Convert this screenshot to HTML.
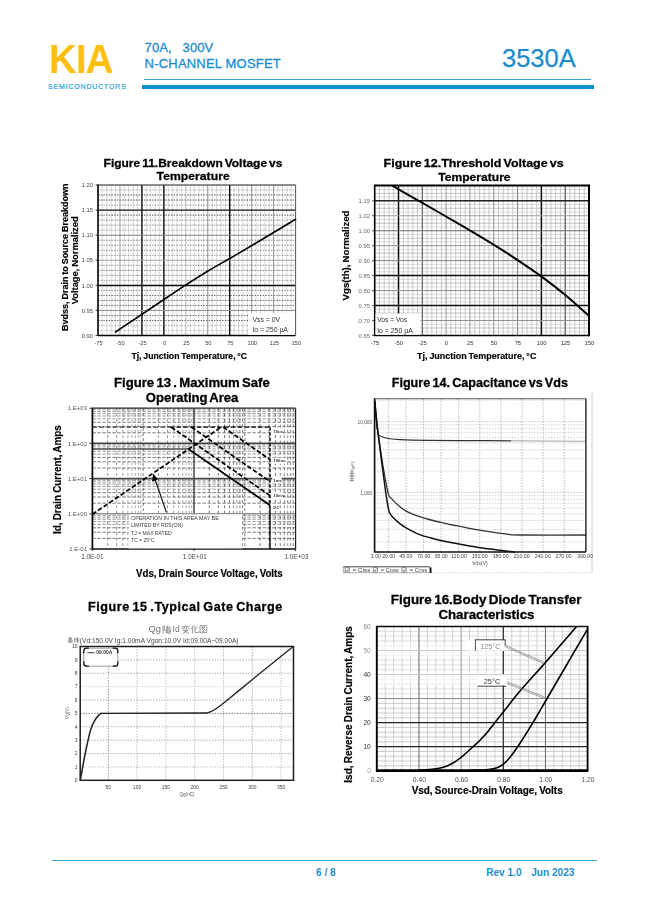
<!DOCTYPE html>
<html lang="en"><head><meta charset="utf-8"><title>KIA 3530A</title>
<style>
html,body{margin:0;padding:0;background:#fff}
body{width:649px;height:917px;position:relative;overflow:hidden;font-family:"Liberation Sans",sans-serif}
.abs{position:absolute;white-space:nowrap;line-height:1}
.kia{left:49px;top:37.9px;font-size:41.5px;font-weight:bold;color:#fdc010;letter-spacing:-1px;transform-origin:0 0;transform:scale(0.93,1)}
.semi{left:48px;top:82.6px;font-size:7px;color:#2f9fda;letter-spacing:0.82px;-webkit-text-stroke:0.2px #2f9fda}
.t1{left:144.6px;top:41.1px;font-size:13px;color:#1b8dcf;-webkit-text-stroke:0.3px #1b8dcf;letter-spacing:0.1px}
.t2{left:144.6px;top:56.7px;font-size:13px;color:#1b8dcf;-webkit-text-stroke:0.3px #1b8dcf;letter-spacing:0.2px}
.pn{left:501.6px;top:45.2px;font-size:26.5px;color:#1b8dcf;-webkit-text-stroke:0.25px #1b8dcf;transform-origin:0 0;transform:scale(0.962,1)}
.hl1{left:144px;top:79px;width:446.6px;height:1.2px;background:#2f9fd6}
.hl2{left:142px;top:85px;width:451.6px;height:4px;background:#0d8fce}
.fl{left:52px;top:859.5px;width:545px;height:1px;background:#3aa6dc}
.ft{font-size:10.1px;font-weight:bold;color:#1b8fd0;top:868.1px}
svg{position:absolute;left:0;top:0}
svg text{font-family:"Liberation Sans",sans-serif}
</style></head><body>
<div class="abs kia">KIA</div>
<div class="abs semi">SEMICONDUCTORS</div>
<div class="abs t1">70A,<span style="display:inline-block;width:10.8px"></span>300V</div>
<div class="abs t2">N-CHANNEL MOSFET</div>
<div class="abs pn">3530A</div>
<div class="abs hl1"></div><div class="abs hl2"></div>
<svg width="649" height="917" viewBox="0 0 649 917">
<defs><filter id="soft" x="0" y="0" width="649" height="917" filterUnits="userSpaceOnUse"><feGaussianBlur stdDeviation="0.38"/></filter></defs>
<g filter="url(#soft)">
<g id="fig11">
<text x="103.60" y="166.90" font-size="11.8" font-weight="bold" fill="#000" textLength="178.80" lengthAdjust="spacingAndGlyphs" stroke="#000" stroke-width="0.3" word-spacing="-1.3">Figure 11.Breakdown Voltage vs</text>
<text x="156.60" y="180.20" font-size="11.8" font-weight="bold" fill="#000" textLength="73.10" lengthAdjust="spacingAndGlyphs" stroke="#000" stroke-width="0.3" word-spacing="-1.3">Temperature</text>
<line x1="102.39" y1="185.00" x2="102.39" y2="335.60" stroke="#cfcfcf" stroke-width="0.8"/>
<line x1="106.78" y1="185.00" x2="106.78" y2="335.60" stroke="#cfcfcf" stroke-width="0.8"/>
<line x1="111.17" y1="185.00" x2="111.17" y2="335.60" stroke="#cfcfcf" stroke-width="0.8"/>
<line x1="115.56" y1="185.00" x2="115.56" y2="335.60" stroke="#cfcfcf" stroke-width="0.8"/>
<line x1="124.35" y1="185.00" x2="124.35" y2="335.60" stroke="#cfcfcf" stroke-width="0.8"/>
<line x1="128.74" y1="185.00" x2="128.74" y2="335.60" stroke="#cfcfcf" stroke-width="0.8"/>
<line x1="133.13" y1="185.00" x2="133.13" y2="335.60" stroke="#cfcfcf" stroke-width="0.8"/>
<line x1="137.52" y1="185.00" x2="137.52" y2="335.60" stroke="#cfcfcf" stroke-width="0.8"/>
<line x1="146.30" y1="185.00" x2="146.30" y2="335.60" stroke="#cfcfcf" stroke-width="0.8"/>
<line x1="150.69" y1="185.00" x2="150.69" y2="335.60" stroke="#cfcfcf" stroke-width="0.8"/>
<line x1="155.08" y1="185.00" x2="155.08" y2="335.60" stroke="#cfcfcf" stroke-width="0.8"/>
<line x1="159.48" y1="185.00" x2="159.48" y2="335.60" stroke="#cfcfcf" stroke-width="0.8"/>
<line x1="168.26" y1="185.00" x2="168.26" y2="335.60" stroke="#cfcfcf" stroke-width="0.8"/>
<line x1="172.65" y1="185.00" x2="172.65" y2="335.60" stroke="#cfcfcf" stroke-width="0.8"/>
<line x1="177.04" y1="185.00" x2="177.04" y2="335.60" stroke="#cfcfcf" stroke-width="0.8"/>
<line x1="181.43" y1="185.00" x2="181.43" y2="335.60" stroke="#cfcfcf" stroke-width="0.8"/>
<line x1="190.21" y1="185.00" x2="190.21" y2="335.60" stroke="#cfcfcf" stroke-width="0.8"/>
<line x1="194.60" y1="185.00" x2="194.60" y2="335.60" stroke="#cfcfcf" stroke-width="0.8"/>
<line x1="199.00" y1="185.00" x2="199.00" y2="335.60" stroke="#cfcfcf" stroke-width="0.8"/>
<line x1="203.39" y1="185.00" x2="203.39" y2="335.60" stroke="#cfcfcf" stroke-width="0.8"/>
<line x1="212.17" y1="185.00" x2="212.17" y2="335.60" stroke="#cfcfcf" stroke-width="0.8"/>
<line x1="216.56" y1="185.00" x2="216.56" y2="335.60" stroke="#cfcfcf" stroke-width="0.8"/>
<line x1="220.95" y1="185.00" x2="220.95" y2="335.60" stroke="#cfcfcf" stroke-width="0.8"/>
<line x1="225.34" y1="185.00" x2="225.34" y2="335.60" stroke="#cfcfcf" stroke-width="0.8"/>
<line x1="234.12" y1="185.00" x2="234.12" y2="335.60" stroke="#cfcfcf" stroke-width="0.8"/>
<line x1="238.52" y1="185.00" x2="238.52" y2="335.60" stroke="#cfcfcf" stroke-width="0.8"/>
<line x1="242.91" y1="185.00" x2="242.91" y2="335.60" stroke="#cfcfcf" stroke-width="0.8"/>
<line x1="247.30" y1="185.00" x2="247.30" y2="335.60" stroke="#cfcfcf" stroke-width="0.8"/>
<line x1="256.08" y1="185.00" x2="256.08" y2="335.60" stroke="#cfcfcf" stroke-width="0.8"/>
<line x1="260.47" y1="185.00" x2="260.47" y2="335.60" stroke="#cfcfcf" stroke-width="0.8"/>
<line x1="264.86" y1="185.00" x2="264.86" y2="335.60" stroke="#cfcfcf" stroke-width="0.8"/>
<line x1="269.25" y1="185.00" x2="269.25" y2="335.60" stroke="#cfcfcf" stroke-width="0.8"/>
<line x1="278.04" y1="185.00" x2="278.04" y2="335.60" stroke="#cfcfcf" stroke-width="0.8"/>
<line x1="282.43" y1="185.00" x2="282.43" y2="335.60" stroke="#cfcfcf" stroke-width="0.8"/>
<line x1="286.82" y1="185.00" x2="286.82" y2="335.60" stroke="#cfcfcf" stroke-width="0.8"/>
<line x1="291.21" y1="185.00" x2="291.21" y2="335.60" stroke="#cfcfcf" stroke-width="0.8"/>
<line x1="98.00" y1="190.02" x2="295.60" y2="190.02" stroke="#2a2a2a" stroke-width="0.85" stroke-dasharray="1.5 1.2" stroke-opacity="0.45"/>
<line x1="98.00" y1="195.04" x2="295.60" y2="195.04" stroke="#2a2a2a" stroke-width="0.85" stroke-dasharray="1.5 1.2" stroke-opacity="0.95"/>
<line x1="98.00" y1="200.06" x2="295.60" y2="200.06" stroke="#2a2a2a" stroke-width="0.85" stroke-dasharray="1.5 1.2" stroke-opacity="0.95"/>
<line x1="98.00" y1="205.08" x2="295.60" y2="205.08" stroke="#2a2a2a" stroke-width="0.85" stroke-dasharray="1.5 1.2" stroke-opacity="0.5"/>
<line x1="98.00" y1="215.12" x2="295.60" y2="215.12" stroke="#2a2a2a" stroke-width="0.85" stroke-dasharray="1.5 1.2" stroke-opacity="0.9"/>
<line x1="98.00" y1="220.14" x2="295.60" y2="220.14" stroke="#2a2a2a" stroke-width="0.85" stroke-dasharray="1.5 1.2" stroke-opacity="0.6"/>
<line x1="98.00" y1="225.16" x2="295.60" y2="225.16" stroke="#2a2a2a" stroke-width="0.85" stroke-dasharray="1.5 1.2" stroke-opacity="0.6"/>
<line x1="98.00" y1="230.18" x2="295.60" y2="230.18" stroke="#2a2a2a" stroke-width="0.85" stroke-dasharray="1.5 1.2" stroke-opacity="0.5"/>
<line x1="98.00" y1="240.22" x2="295.60" y2="240.22" stroke="#2a2a2a" stroke-width="0.85" stroke-dasharray="1.5 1.2" stroke-opacity="0.7"/>
<line x1="98.00" y1="245.24" x2="295.60" y2="245.24" stroke="#2a2a2a" stroke-width="0.85" stroke-dasharray="1.5 1.2" stroke-opacity="0.6"/>
<line x1="98.00" y1="250.26" x2="295.60" y2="250.26" stroke="#2a2a2a" stroke-width="0.85" stroke-dasharray="1.5 1.2" stroke-opacity="0.6"/>
<line x1="98.00" y1="255.28" x2="295.60" y2="255.28" stroke="#2a2a2a" stroke-width="0.85" stroke-dasharray="1.5 1.2" stroke-opacity="0.55"/>
<line x1="98.00" y1="265.32" x2="295.60" y2="265.32" stroke="#2a2a2a" stroke-width="0.85" stroke-dasharray="1.5 1.2" stroke-opacity="0.6"/>
<line x1="98.00" y1="270.34" x2="295.60" y2="270.34" stroke="#2a2a2a" stroke-width="0.85" stroke-dasharray="1.5 1.2" stroke-opacity="0.7"/>
<line x1="98.00" y1="275.36" x2="295.60" y2="275.36" stroke="#2a2a2a" stroke-width="0.85" stroke-dasharray="1.5 1.2" stroke-opacity="0.6"/>
<line x1="98.00" y1="280.38" x2="295.60" y2="280.38" stroke="#2a2a2a" stroke-width="0.85" stroke-dasharray="1.5 1.2" stroke-opacity="0.55"/>
<line x1="98.00" y1="290.42" x2="295.60" y2="290.42" stroke="#2a2a2a" stroke-width="0.85" stroke-dasharray="1.5 1.2" stroke-opacity="0.6"/>
<line x1="98.00" y1="295.44" x2="295.60" y2="295.44" stroke="#2a2a2a" stroke-width="0.85" stroke-dasharray="1.5 1.2" stroke-opacity="0.8"/>
<line x1="98.00" y1="300.46" x2="295.60" y2="300.46" stroke="#2a2a2a" stroke-width="0.85" stroke-dasharray="1.5 1.2" stroke-opacity="0.8"/>
<line x1="98.00" y1="305.48" x2="295.60" y2="305.48" stroke="#2a2a2a" stroke-width="0.85" stroke-dasharray="1.5 1.2" stroke-opacity="0.8"/>
<line x1="98.00" y1="315.52" x2="295.60" y2="315.52" stroke="#2a2a2a" stroke-width="0.85" stroke-dasharray="1.5 1.2" stroke-opacity="0.8"/>
<line x1="98.00" y1="320.54" x2="295.60" y2="320.54" stroke="#2a2a2a" stroke-width="0.85" stroke-dasharray="1.5 1.2" stroke-opacity="0.8"/>
<line x1="98.00" y1="325.56" x2="295.60" y2="325.56" stroke="#2a2a2a" stroke-width="0.85" stroke-dasharray="1.5 1.2" stroke-opacity="0.4"/>
<line x1="98.00" y1="330.58" x2="295.60" y2="330.58" stroke="#2a2a2a" stroke-width="0.85" stroke-dasharray="1.5 1.2" stroke-opacity="0.35"/>
<line x1="119.96" y1="185.00" x2="119.96" y2="335.60" stroke="#a0a0a0" stroke-width="1.0"/>
<line x1="141.91" y1="185.00" x2="141.91" y2="335.60" stroke="#111" stroke-width="1.45"/>
<line x1="163.87" y1="185.00" x2="163.87" y2="335.60" stroke="#111" stroke-width="1.45"/>
<line x1="185.82" y1="185.00" x2="185.82" y2="335.60" stroke="#b0b0b0" stroke-width="1.0"/>
<line x1="207.78" y1="185.00" x2="207.78" y2="335.60" stroke="#909090" stroke-width="1.0"/>
<line x1="229.73" y1="185.00" x2="229.73" y2="335.60" stroke="#111" stroke-width="1.45"/>
<line x1="251.69" y1="185.00" x2="251.69" y2="335.60" stroke="#909090" stroke-width="1.0"/>
<line x1="273.64" y1="185.00" x2="273.64" y2="335.60" stroke="#909090" stroke-width="1.0"/>
<line x1="98.00" y1="210.10" x2="295.60" y2="210.10" stroke="#111" stroke-width="1.45"/>
<line x1="98.00" y1="235.20" x2="295.60" y2="235.20" stroke="#808080" stroke-width="1.1"/>
<line x1="98.00" y1="260.30" x2="295.60" y2="260.30" stroke="#a0a0a0" stroke-width="1.1"/>
<line x1="98.00" y1="285.40" x2="295.60" y2="285.40" stroke="#111" stroke-width="1.45"/>
<line x1="98.00" y1="310.50" x2="295.60" y2="310.50" stroke="#909090" stroke-width="1.1"/>
<line x1="98.00" y1="185.00" x2="295.60" y2="185.00" stroke="#222" stroke-width="1.2"/>
<line x1="98.00" y1="335.60" x2="295.60" y2="335.60" stroke="#000" stroke-width="1.5"/>
<line x1="295.60" y1="185.00" x2="295.60" y2="335.60" stroke="#555" stroke-width="1.0"/>
<line x1="98.00" y1="184.40" x2="98.00" y2="336.10" stroke="#000" stroke-width="1.6"/>
<rect x="248.50" y="313.00" width="46.40" height="21.90" fill="#fff"/>
<text x="252.40" y="322.20" font-size="6.9" text-anchor="start" font-weight="normal" fill="#333" >Vss = 0V</text>
<text x="252.40" y="331.60" font-size="6.9" text-anchor="start" font-weight="normal" fill="#333" >Io = 250 &#181;A</text>
<path d="M115.50,332.00 C119.87,329.08 133.63,319.92 141.70,314.50 C149.77,309.08 156.78,304.27 163.90,299.50 C171.02,294.73 177.05,290.65 184.40,285.90 C191.75,281.15 200.37,275.62 208.00,271.00 C215.63,266.38 222.82,262.50 230.20,258.20 C237.58,253.90 244.93,249.57 252.30,245.20 C259.67,240.83 267.18,236.32 274.40,232.00 C281.62,227.68 292.07,221.42 295.60,219.30" fill="none" stroke="#000" stroke-width="1.6" stroke-linecap="round"/>
<text x="93.00" y="187.10" font-size="5.8" text-anchor="end" font-weight="normal" fill="#444" >1.20</text>
<line x1="95.60" y1="185.00" x2="98.00" y2="185.00" stroke="#222" stroke-width="0.9"/>
<text x="93.00" y="212.20" font-size="5.8" text-anchor="end" font-weight="normal" fill="#444" >1.15</text>
<line x1="95.60" y1="210.10" x2="98.00" y2="210.10" stroke="#222" stroke-width="0.9"/>
<text x="93.00" y="237.30" font-size="5.8" text-anchor="end" font-weight="normal" fill="#444" >1.10</text>
<line x1="95.60" y1="235.20" x2="98.00" y2="235.20" stroke="#222" stroke-width="0.9"/>
<text x="93.00" y="262.40" font-size="5.8" text-anchor="end" font-weight="normal" fill="#444" >1.05</text>
<line x1="95.60" y1="260.30" x2="98.00" y2="260.30" stroke="#222" stroke-width="0.9"/>
<text x="93.00" y="287.50" font-size="5.8" text-anchor="end" font-weight="normal" fill="#444" >1.00</text>
<line x1="95.60" y1="285.40" x2="98.00" y2="285.40" stroke="#222" stroke-width="0.9"/>
<text x="93.00" y="312.60" font-size="5.8" text-anchor="end" font-weight="normal" fill="#444" >0.95</text>
<line x1="95.60" y1="310.50" x2="98.00" y2="310.50" stroke="#222" stroke-width="0.9"/>
<text x="93.00" y="337.70" font-size="5.8" text-anchor="end" font-weight="normal" fill="#444" >0.90</text>
<line x1="95.60" y1="335.60" x2="98.00" y2="335.60" stroke="#222" stroke-width="0.9"/>
<text x="98.60" y="344.50" font-size="5.7" text-anchor="middle" font-weight="normal" fill="#3a3a3a" >-75</text>
<text x="120.56" y="344.50" font-size="5.7" text-anchor="middle" font-weight="normal" fill="#3a3a3a" >-50</text>
<text x="142.51" y="344.50" font-size="5.7" text-anchor="middle" font-weight="normal" fill="#3a3a3a" >-25</text>
<text x="164.47" y="344.50" font-size="5.7" text-anchor="middle" font-weight="normal" fill="#3a3a3a" >0</text>
<text x="186.42" y="344.50" font-size="5.7" text-anchor="middle" font-weight="normal" fill="#3a3a3a" >25</text>
<text x="208.38" y="344.50" font-size="5.7" text-anchor="middle" font-weight="normal" fill="#3a3a3a" >50</text>
<text x="230.33" y="344.50" font-size="5.7" text-anchor="middle" font-weight="normal" fill="#3a3a3a" >75</text>
<text x="252.29" y="344.50" font-size="5.7" text-anchor="middle" font-weight="normal" fill="#3a3a3a" >100</text>
<text x="274.24" y="344.50" font-size="5.7" text-anchor="middle" font-weight="normal" fill="#3a3a3a" >125</text>
<text x="296.20" y="344.50" font-size="5.7" text-anchor="middle" font-weight="normal" fill="#3a3a3a" >150</text>
<text x="131.40" y="358.60" font-size="8.6" font-weight="bold" fill="#000" textLength="115.70" lengthAdjust="spacingAndGlyphs" stroke="#000" stroke-width="0.18" word-spacing="-0.6">Tj, Junction Temperature, &#176;C</text>
<text x="-331.00" y="67.60" font-size="8.8" font-weight="bold" fill="#000" textLength="147.50" lengthAdjust="spacingAndGlyphs" stroke="#000" stroke-width="0.18" word-spacing="-0.6" transform="rotate(-90 0.00 0.00)">Bvdss, Drain to Source Breakdown</text>
<text x="-304.30" y="77.50" font-size="8.8" font-weight="bold" fill="#000" textLength="88.00" lengthAdjust="spacingAndGlyphs" stroke="#000" stroke-width="0.18" word-spacing="-0.6" transform="rotate(-90 0.00 0.00)">Voltage, Normalized</text>
</g>
<g id="fig12">
<text x="383.60" y="167.40" font-size="11.8" font-weight="bold" fill="#000" textLength="180.00" lengthAdjust="spacingAndGlyphs" stroke="#000" stroke-width="0.3" word-spacing="-1.3">Figure 12.Threshold Voltage vs</text>
<text x="438.20" y="180.60" font-size="11.8" font-weight="bold" fill="#000" textLength="72.40" lengthAdjust="spacingAndGlyphs" stroke="#000" stroke-width="0.3" word-spacing="-1.3">Temperature</text>
<line x1="379.46" y1="185.80" x2="379.46" y2="335.50" stroke="#bcbcbc" stroke-width="0.8"/>
<line x1="384.22" y1="185.80" x2="384.22" y2="335.50" stroke="#bcbcbc" stroke-width="0.8"/>
<line x1="388.99" y1="185.80" x2="388.99" y2="335.50" stroke="#bcbcbc" stroke-width="0.8"/>
<line x1="393.75" y1="185.80" x2="393.75" y2="335.50" stroke="#bcbcbc" stroke-width="0.8"/>
<line x1="403.27" y1="185.80" x2="403.27" y2="335.50" stroke="#bcbcbc" stroke-width="0.8"/>
<line x1="408.04" y1="185.80" x2="408.04" y2="335.50" stroke="#bcbcbc" stroke-width="0.8"/>
<line x1="412.80" y1="185.80" x2="412.80" y2="335.50" stroke="#bcbcbc" stroke-width="0.8"/>
<line x1="417.56" y1="185.80" x2="417.56" y2="335.50" stroke="#bcbcbc" stroke-width="0.8"/>
<line x1="427.08" y1="185.80" x2="427.08" y2="335.50" stroke="#bcbcbc" stroke-width="0.8"/>
<line x1="431.85" y1="185.80" x2="431.85" y2="335.50" stroke="#bcbcbc" stroke-width="0.8"/>
<line x1="436.61" y1="185.80" x2="436.61" y2="335.50" stroke="#bcbcbc" stroke-width="0.8"/>
<line x1="441.37" y1="185.80" x2="441.37" y2="335.50" stroke="#bcbcbc" stroke-width="0.8"/>
<line x1="450.90" y1="185.80" x2="450.90" y2="335.50" stroke="#bcbcbc" stroke-width="0.8"/>
<line x1="455.66" y1="185.80" x2="455.66" y2="335.50" stroke="#bcbcbc" stroke-width="0.8"/>
<line x1="460.42" y1="185.80" x2="460.42" y2="335.50" stroke="#bcbcbc" stroke-width="0.8"/>
<line x1="465.18" y1="185.80" x2="465.18" y2="335.50" stroke="#bcbcbc" stroke-width="0.8"/>
<line x1="474.71" y1="185.80" x2="474.71" y2="335.50" stroke="#bcbcbc" stroke-width="0.8"/>
<line x1="479.47" y1="185.80" x2="479.47" y2="335.50" stroke="#bcbcbc" stroke-width="0.8"/>
<line x1="484.23" y1="185.80" x2="484.23" y2="335.50" stroke="#bcbcbc" stroke-width="0.8"/>
<line x1="488.99" y1="185.80" x2="488.99" y2="335.50" stroke="#bcbcbc" stroke-width="0.8"/>
<line x1="498.52" y1="185.80" x2="498.52" y2="335.50" stroke="#bcbcbc" stroke-width="0.8"/>
<line x1="503.28" y1="185.80" x2="503.28" y2="335.50" stroke="#bcbcbc" stroke-width="0.8"/>
<line x1="508.04" y1="185.80" x2="508.04" y2="335.50" stroke="#bcbcbc" stroke-width="0.8"/>
<line x1="512.80" y1="185.80" x2="512.80" y2="335.50" stroke="#bcbcbc" stroke-width="0.8"/>
<line x1="522.33" y1="185.80" x2="522.33" y2="335.50" stroke="#bcbcbc" stroke-width="0.8"/>
<line x1="527.09" y1="185.80" x2="527.09" y2="335.50" stroke="#bcbcbc" stroke-width="0.8"/>
<line x1="531.85" y1="185.80" x2="531.85" y2="335.50" stroke="#bcbcbc" stroke-width="0.8"/>
<line x1="536.62" y1="185.80" x2="536.62" y2="335.50" stroke="#bcbcbc" stroke-width="0.8"/>
<line x1="546.14" y1="185.80" x2="546.14" y2="335.50" stroke="#bcbcbc" stroke-width="0.8"/>
<line x1="550.90" y1="185.80" x2="550.90" y2="335.50" stroke="#bcbcbc" stroke-width="0.8"/>
<line x1="555.66" y1="185.80" x2="555.66" y2="335.50" stroke="#bcbcbc" stroke-width="0.8"/>
<line x1="560.43" y1="185.80" x2="560.43" y2="335.50" stroke="#bcbcbc" stroke-width="0.8"/>
<line x1="569.95" y1="185.80" x2="569.95" y2="335.50" stroke="#bcbcbc" stroke-width="0.8"/>
<line x1="574.71" y1="185.80" x2="574.71" y2="335.50" stroke="#bcbcbc" stroke-width="0.8"/>
<line x1="579.48" y1="185.80" x2="579.48" y2="335.50" stroke="#bcbcbc" stroke-width="0.8"/>
<line x1="584.24" y1="185.80" x2="584.24" y2="335.50" stroke="#bcbcbc" stroke-width="0.8"/>
<line x1="374.70" y1="189.54" x2="589.00" y2="189.54" stroke="#c8c8c8" stroke-width="0.7"/>
<line x1="374.70" y1="193.29" x2="589.00" y2="193.29" stroke="#aaa" stroke-width="0.7"/>
<line x1="374.70" y1="197.03" x2="589.00" y2="197.03" stroke="#c8c8c8" stroke-width="0.7"/>
<line x1="374.70" y1="204.51" x2="589.00" y2="204.51" stroke="#c8c8c8" stroke-width="0.7"/>
<line x1="374.70" y1="208.25" x2="589.00" y2="208.25" stroke="#aaa" stroke-width="0.7"/>
<line x1="374.70" y1="212.00" x2="589.00" y2="212.00" stroke="#c8c8c8" stroke-width="0.7"/>
<line x1="374.70" y1="219.48" x2="589.00" y2="219.48" stroke="#c8c8c8" stroke-width="0.7"/>
<line x1="374.70" y1="223.23" x2="589.00" y2="223.23" stroke="#aaa" stroke-width="0.7"/>
<line x1="374.70" y1="226.97" x2="589.00" y2="226.97" stroke="#c8c8c8" stroke-width="0.7"/>
<line x1="374.70" y1="234.45" x2="589.00" y2="234.45" stroke="#c8c8c8" stroke-width="0.7"/>
<line x1="374.70" y1="238.19" x2="589.00" y2="238.19" stroke="#aaa" stroke-width="0.7"/>
<line x1="374.70" y1="241.94" x2="589.00" y2="241.94" stroke="#c8c8c8" stroke-width="0.7"/>
<line x1="374.70" y1="249.42" x2="589.00" y2="249.42" stroke="#c8c8c8" stroke-width="0.7"/>
<line x1="374.70" y1="253.17" x2="589.00" y2="253.17" stroke="#aaa" stroke-width="0.7"/>
<line x1="374.70" y1="256.91" x2="589.00" y2="256.91" stroke="#c8c8c8" stroke-width="0.7"/>
<line x1="374.70" y1="264.39" x2="589.00" y2="264.39" stroke="#c8c8c8" stroke-width="0.7"/>
<line x1="374.70" y1="268.13" x2="589.00" y2="268.13" stroke="#aaa" stroke-width="0.7"/>
<line x1="374.70" y1="271.88" x2="589.00" y2="271.88" stroke="#c8c8c8" stroke-width="0.7"/>
<line x1="374.70" y1="279.36" x2="589.00" y2="279.36" stroke="#c8c8c8" stroke-width="0.7"/>
<line x1="374.70" y1="283.11" x2="589.00" y2="283.11" stroke="#aaa" stroke-width="0.7"/>
<line x1="374.70" y1="286.85" x2="589.00" y2="286.85" stroke="#c8c8c8" stroke-width="0.7"/>
<line x1="374.70" y1="294.33" x2="589.00" y2="294.33" stroke="#c8c8c8" stroke-width="0.7"/>
<line x1="374.70" y1="298.07" x2="589.00" y2="298.07" stroke="#aaa" stroke-width="0.7"/>
<line x1="374.70" y1="301.82" x2="589.00" y2="301.82" stroke="#c8c8c8" stroke-width="0.7"/>
<line x1="374.70" y1="309.30" x2="589.00" y2="309.30" stroke="#c8c8c8" stroke-width="0.7"/>
<line x1="374.70" y1="313.05" x2="589.00" y2="313.05" stroke="#aaa" stroke-width="0.7"/>
<line x1="374.70" y1="316.79" x2="589.00" y2="316.79" stroke="#c8c8c8" stroke-width="0.7"/>
<line x1="374.70" y1="324.27" x2="589.00" y2="324.27" stroke="#c8c8c8" stroke-width="0.7"/>
<line x1="374.70" y1="328.01" x2="589.00" y2="328.01" stroke="#aaa" stroke-width="0.7"/>
<line x1="374.70" y1="331.76" x2="589.00" y2="331.76" stroke="#c8c8c8" stroke-width="0.7"/>
<line x1="398.51" y1="185.80" x2="398.51" y2="335.50" stroke="#111" stroke-width="1.5"/>
<line x1="422.32" y1="185.80" x2="422.32" y2="335.50" stroke="#555" stroke-width="1.1"/>
<line x1="446.13" y1="185.80" x2="446.13" y2="335.50" stroke="#999" stroke-width="1"/>
<line x1="469.94" y1="185.80" x2="469.94" y2="335.50" stroke="#999" stroke-width="1"/>
<line x1="493.76" y1="185.80" x2="493.76" y2="335.50" stroke="#909090" stroke-width="1"/>
<line x1="517.57" y1="185.80" x2="517.57" y2="335.50" stroke="#808080" stroke-width="1"/>
<line x1="541.38" y1="185.80" x2="541.38" y2="335.50" stroke="#111" stroke-width="1.5"/>
<line x1="565.19" y1="185.80" x2="565.19" y2="335.50" stroke="#444" stroke-width="1.1"/>
<line x1="374.70" y1="200.77" x2="589.00" y2="200.77" stroke="#222" stroke-width="1.3"/>
<line x1="374.70" y1="215.74" x2="589.00" y2="215.74" stroke="#a0a0a0" stroke-width="1"/>
<line x1="374.70" y1="230.71" x2="589.00" y2="230.71" stroke="#6a6a6a" stroke-width="1.1"/>
<line x1="374.70" y1="245.68" x2="589.00" y2="245.68" stroke="#909090" stroke-width="1"/>
<line x1="374.70" y1="260.65" x2="589.00" y2="260.65" stroke="#808080" stroke-width="1"/>
<line x1="374.70" y1="275.62" x2="589.00" y2="275.62" stroke="#111" stroke-width="1.5"/>
<line x1="374.70" y1="290.59" x2="589.00" y2="290.59" stroke="#909090" stroke-width="1"/>
<line x1="374.70" y1="305.56" x2="589.00" y2="305.56" stroke="#111" stroke-width="1.6"/>
<line x1="374.70" y1="320.53" x2="589.00" y2="320.53" stroke="#909090" stroke-width="1"/>
<line x1="374.70" y1="185.80" x2="374.70" y2="335.50" stroke="#000" stroke-width="1.6"/>
<line x1="589.00" y1="184.80" x2="589.00" y2="336.30" stroke="#000" stroke-width="2.0"/>
<line x1="373.90" y1="335.50" x2="589.00" y2="335.50" stroke="#000" stroke-width="1.7"/>
<line x1="373.90" y1="185.50" x2="590.00" y2="185.50" stroke="#000" stroke-width="2.0"/>
<rect x="375.50" y="313.50" width="45.00" height="21.20" fill="#fff"/>
<text x="377.20" y="321.90" font-size="6.7" text-anchor="start" font-weight="normal" fill="#2c2c2c" >Vos = Vos</text>
<text x="377.20" y="332.60" font-size="6.9" text-anchor="start" font-weight="normal" fill="#2c2c2c" >Io = 250 &#181;A</text>
<path d="M392.80,186.00 C397.73,188.82 413.53,197.82 422.40,202.90 C431.27,207.98 438.07,211.90 446.00,216.50 C453.93,221.10 462.00,225.77 470.00,230.50 C478.00,235.23 486.00,239.93 494.00,244.90 C502.00,249.87 510.12,255.05 518.00,260.30 C525.88,265.55 533.42,270.60 541.30,276.40 C549.18,282.20 557.35,288.50 565.30,295.10 C573.25,301.70 585.05,312.52 589.00,316.00" fill="none" stroke="#000" stroke-width="2.0" stroke-linecap="round"/>
<text x="369.90" y="202.97" font-size="5.8" text-anchor="end" font-weight="normal" fill="#666" >1.15</text>
<line x1="372.30" y1="200.77" x2="374.70" y2="200.77" stroke="#222" stroke-width="0.9"/>
<text x="369.90" y="217.94" font-size="5.8" text-anchor="end" font-weight="normal" fill="#666" >1.02</text>
<line x1="372.30" y1="215.74" x2="374.70" y2="215.74" stroke="#222" stroke-width="0.9"/>
<text x="369.90" y="232.91" font-size="5.8" text-anchor="end" font-weight="normal" fill="#666" >1.00</text>
<line x1="372.30" y1="230.71" x2="374.70" y2="230.71" stroke="#222" stroke-width="0.9"/>
<text x="369.90" y="247.88" font-size="5.8" text-anchor="end" font-weight="normal" fill="#666" >0.95</text>
<line x1="372.30" y1="245.68" x2="374.70" y2="245.68" stroke="#222" stroke-width="0.9"/>
<text x="369.90" y="262.85" font-size="5.8" text-anchor="end" font-weight="normal" fill="#666" >0.90</text>
<line x1="372.30" y1="260.65" x2="374.70" y2="260.65" stroke="#222" stroke-width="0.9"/>
<text x="369.90" y="277.82" font-size="5.8" text-anchor="end" font-weight="normal" fill="#666" >0.85</text>
<line x1="372.30" y1="275.62" x2="374.70" y2="275.62" stroke="#222" stroke-width="0.9"/>
<text x="369.90" y="292.79" font-size="5.8" text-anchor="end" font-weight="normal" fill="#666" >0.80</text>
<line x1="372.30" y1="290.59" x2="374.70" y2="290.59" stroke="#222" stroke-width="0.9"/>
<text x="369.90" y="307.76" font-size="5.8" text-anchor="end" font-weight="normal" fill="#666" >0.75</text>
<line x1="372.30" y1="305.56" x2="374.70" y2="305.56" stroke="#222" stroke-width="0.9"/>
<text x="369.90" y="322.73" font-size="5.8" text-anchor="end" font-weight="normal" fill="#666" >0.70</text>
<line x1="372.30" y1="320.53" x2="374.70" y2="320.53" stroke="#222" stroke-width="0.9"/>
<text x="369.90" y="337.70" font-size="5.8" text-anchor="end" font-weight="normal" fill="#666" >0.65</text>
<line x1="372.30" y1="335.50" x2="374.70" y2="335.50" stroke="#222" stroke-width="0.9"/>
<text x="375.00" y="345.00" font-size="5.8" text-anchor="middle" font-weight="normal" fill="#333" >-75</text>
<text x="398.81" y="345.00" font-size="5.8" text-anchor="middle" font-weight="normal" fill="#333" >-50</text>
<text x="422.62" y="345.00" font-size="5.8" text-anchor="middle" font-weight="normal" fill="#333" >-25</text>
<text x="446.43" y="345.00" font-size="5.8" text-anchor="middle" font-weight="normal" fill="#333" >0</text>
<text x="470.24" y="345.00" font-size="5.8" text-anchor="middle" font-weight="normal" fill="#333" >25</text>
<text x="494.06" y="345.00" font-size="5.8" text-anchor="middle" font-weight="normal" fill="#333" >50</text>
<text x="517.87" y="345.00" font-size="5.8" text-anchor="middle" font-weight="normal" fill="#333" >75</text>
<text x="541.68" y="345.00" font-size="5.8" text-anchor="middle" font-weight="normal" fill="#333" >100</text>
<text x="565.49" y="345.00" font-size="5.8" text-anchor="middle" font-weight="normal" fill="#333" >125</text>
<text x="589.30" y="345.00" font-size="5.8" text-anchor="middle" font-weight="normal" fill="#333" >150</text>
<text x="417.10" y="358.60" font-size="8.8" font-weight="bold" fill="#000" textLength="119.30" lengthAdjust="spacingAndGlyphs" stroke="#000" stroke-width="0.18" word-spacing="-0.6">Tj, Junction Temperature, &#176;C</text>
<text x="-300.40" y="349.00" font-size="9.2" font-weight="bold" fill="#000" textLength="89.90" lengthAdjust="spacingAndGlyphs" stroke="#000" stroke-width="0.18" word-spacing="-0.6" transform="rotate(-90 0.00 0.00)">Vgs(th), Normalized</text>
</g>
<g id="fig13">
<text x="114.10" y="387.30" font-size="12.7" font-weight="bold" fill="#000" textLength="155.60" lengthAdjust="spacingAndGlyphs" stroke="#000" stroke-width="0.3" word-spacing="-1.3">Figure 13 . Maximum Safe</text>
<text x="145.80" y="402.20" font-size="12.7" font-weight="bold" fill="#000" textLength="92.50" lengthAdjust="spacingAndGlyphs" stroke="#000" stroke-width="0.3" word-spacing="-1.3">Operating Area</text>
<line x1="107.69" y1="408.20" x2="107.69" y2="549.00" stroke="#2a2a2a" stroke-width="0.8" stroke-dasharray="2.8 2.6" stroke-opacity="0.595"/>
<line x1="92.40" y1="538.40" x2="295.60" y2="538.40" stroke="#2a2a2a" stroke-width="0.8" stroke-dasharray="3.4 1.6" stroke-opacity="0.78"/>
<line x1="116.64" y1="408.20" x2="116.64" y2="549.00" stroke="#2a2a2a" stroke-width="0.8" stroke-dasharray="2.8 2.6" stroke-opacity="0.595"/>
<line x1="92.40" y1="532.21" x2="295.60" y2="532.21" stroke="#2a2a2a" stroke-width="0.8" stroke-dasharray="3.4 1.6" stroke-opacity="0.78"/>
<line x1="122.98" y1="408.20" x2="122.98" y2="549.00" stroke="#2a2a2a" stroke-width="0.8" stroke-dasharray="2.8 2.6" stroke-opacity="0.595"/>
<line x1="92.40" y1="527.81" x2="295.60" y2="527.81" stroke="#2a2a2a" stroke-width="0.8" stroke-dasharray="3.4 1.6" stroke-opacity="0.78"/>
<line x1="127.91" y1="408.20" x2="127.91" y2="549.00" stroke="#2a2a2a" stroke-width="0.8" stroke-dasharray="2.8 2.6" stroke-opacity="0.49299999999999994"/>
<line x1="92.40" y1="524.40" x2="295.60" y2="524.40" stroke="#2a2a2a" stroke-width="0.8" stroke-dasharray="3.4 1.6" stroke-opacity="0.6"/>
<line x1="131.93" y1="408.20" x2="131.93" y2="549.00" stroke="#2a2a2a" stroke-width="0.8" stroke-dasharray="2.8 2.6" stroke-opacity="0.49299999999999994"/>
<line x1="92.40" y1="521.61" x2="295.60" y2="521.61" stroke="#2a2a2a" stroke-width="0.8" stroke-dasharray="3.4 1.6" stroke-opacity="0.6"/>
<line x1="135.33" y1="408.20" x2="135.33" y2="549.00" stroke="#2a2a2a" stroke-width="0.8" stroke-dasharray="2.8 2.6" stroke-opacity="0.49299999999999994"/>
<line x1="92.40" y1="519.25" x2="295.60" y2="519.25" stroke="#2a2a2a" stroke-width="0.8" stroke-dasharray="3.4 1.6" stroke-opacity="0.6"/>
<line x1="138.28" y1="408.20" x2="138.28" y2="549.00" stroke="#2a2a2a" stroke-width="0.8" stroke-dasharray="2.8 2.6" stroke-opacity="0.49299999999999994"/>
<line x1="92.40" y1="517.21" x2="295.60" y2="517.21" stroke="#2a2a2a" stroke-width="0.8" stroke-dasharray="3.4 1.6" stroke-opacity="0.6"/>
<line x1="140.88" y1="408.20" x2="140.88" y2="549.00" stroke="#2a2a2a" stroke-width="0.8" stroke-dasharray="2.8 2.6" stroke-opacity="0.49299999999999994"/>
<line x1="92.40" y1="515.41" x2="295.60" y2="515.41" stroke="#2a2a2a" stroke-width="0.8" stroke-dasharray="3.4 1.6" stroke-opacity="0.6"/>
<line x1="158.49" y1="408.20" x2="158.49" y2="549.00" stroke="#2a2a2a" stroke-width="0.8" stroke-dasharray="2.8 2.6" stroke-opacity="0.595"/>
<line x1="92.40" y1="503.20" x2="295.60" y2="503.20" stroke="#2a2a2a" stroke-width="0.8" stroke-dasharray="3.4 1.6" stroke-opacity="0.78"/>
<line x1="167.44" y1="408.20" x2="167.44" y2="549.00" stroke="#2a2a2a" stroke-width="0.8" stroke-dasharray="2.8 2.6" stroke-opacity="0.595"/>
<line x1="92.40" y1="497.01" x2="295.60" y2="497.01" stroke="#2a2a2a" stroke-width="0.8" stroke-dasharray="3.4 1.6" stroke-opacity="0.78"/>
<line x1="173.78" y1="408.20" x2="173.78" y2="549.00" stroke="#2a2a2a" stroke-width="0.8" stroke-dasharray="2.8 2.6" stroke-opacity="0.595"/>
<line x1="92.40" y1="492.61" x2="295.60" y2="492.61" stroke="#2a2a2a" stroke-width="0.8" stroke-dasharray="3.4 1.6" stroke-opacity="0.78"/>
<line x1="178.71" y1="408.20" x2="178.71" y2="549.00" stroke="#2a2a2a" stroke-width="0.8" stroke-dasharray="2.8 2.6" stroke-opacity="0.49299999999999994"/>
<line x1="92.40" y1="489.20" x2="295.60" y2="489.20" stroke="#2a2a2a" stroke-width="0.8" stroke-dasharray="3.4 1.6" stroke-opacity="0.6"/>
<line x1="182.73" y1="408.20" x2="182.73" y2="549.00" stroke="#2a2a2a" stroke-width="0.8" stroke-dasharray="2.8 2.6" stroke-opacity="0.49299999999999994"/>
<line x1="92.40" y1="486.41" x2="295.60" y2="486.41" stroke="#2a2a2a" stroke-width="0.8" stroke-dasharray="3.4 1.6" stroke-opacity="0.6"/>
<line x1="186.13" y1="408.20" x2="186.13" y2="549.00" stroke="#2a2a2a" stroke-width="0.8" stroke-dasharray="2.8 2.6" stroke-opacity="0.49299999999999994"/>
<line x1="92.40" y1="484.05" x2="295.60" y2="484.05" stroke="#2a2a2a" stroke-width="0.8" stroke-dasharray="3.4 1.6" stroke-opacity="0.6"/>
<line x1="189.08" y1="408.20" x2="189.08" y2="549.00" stroke="#2a2a2a" stroke-width="0.8" stroke-dasharray="2.8 2.6" stroke-opacity="0.49299999999999994"/>
<line x1="92.40" y1="482.01" x2="295.60" y2="482.01" stroke="#2a2a2a" stroke-width="0.8" stroke-dasharray="3.4 1.6" stroke-opacity="0.6"/>
<line x1="191.68" y1="408.20" x2="191.68" y2="549.00" stroke="#2a2a2a" stroke-width="0.8" stroke-dasharray="2.8 2.6" stroke-opacity="0.49299999999999994"/>
<line x1="92.40" y1="480.21" x2="295.60" y2="480.21" stroke="#2a2a2a" stroke-width="0.8" stroke-dasharray="3.4 1.6" stroke-opacity="0.6"/>
<line x1="209.29" y1="408.20" x2="209.29" y2="549.00" stroke="#2a2a2a" stroke-width="0.8" stroke-dasharray="2.8 2.6" stroke-opacity="0.84"/>
<line x1="92.40" y1="468.00" x2="295.60" y2="468.00" stroke="#2a2a2a" stroke-width="0.8" stroke-dasharray="3.4 1.6" stroke-opacity="0.78"/>
<line x1="218.24" y1="408.20" x2="218.24" y2="549.00" stroke="#2a2a2a" stroke-width="0.8" stroke-dasharray="2.8 2.6" stroke-opacity="0.84"/>
<line x1="92.40" y1="461.81" x2="295.60" y2="461.81" stroke="#2a2a2a" stroke-width="0.8" stroke-dasharray="3.4 1.6" stroke-opacity="0.78"/>
<line x1="224.58" y1="408.20" x2="224.58" y2="549.00" stroke="#2a2a2a" stroke-width="0.8" stroke-dasharray="2.8 2.6" stroke-opacity="0.84"/>
<line x1="92.40" y1="457.41" x2="295.60" y2="457.41" stroke="#2a2a2a" stroke-width="0.8" stroke-dasharray="3.4 1.6" stroke-opacity="0.78"/>
<line x1="229.51" y1="408.20" x2="229.51" y2="549.00" stroke="#2a2a2a" stroke-width="0.8" stroke-dasharray="2.8 2.6" stroke-opacity="0.696"/>
<line x1="92.40" y1="454.00" x2="295.60" y2="454.00" stroke="#2a2a2a" stroke-width="0.8" stroke-dasharray="3.4 1.6" stroke-opacity="0.6"/>
<line x1="233.53" y1="408.20" x2="233.53" y2="549.00" stroke="#2a2a2a" stroke-width="0.8" stroke-dasharray="2.8 2.6" stroke-opacity="0.696"/>
<line x1="92.40" y1="451.21" x2="295.60" y2="451.21" stroke="#2a2a2a" stroke-width="0.8" stroke-dasharray="3.4 1.6" stroke-opacity="0.6"/>
<line x1="236.93" y1="408.20" x2="236.93" y2="549.00" stroke="#2a2a2a" stroke-width="0.8" stroke-dasharray="2.8 2.6" stroke-opacity="0.696"/>
<line x1="92.40" y1="448.85" x2="295.60" y2="448.85" stroke="#2a2a2a" stroke-width="0.8" stroke-dasharray="3.4 1.6" stroke-opacity="0.6"/>
<line x1="239.88" y1="408.20" x2="239.88" y2="549.00" stroke="#2a2a2a" stroke-width="0.8" stroke-dasharray="2.8 2.6" stroke-opacity="0.696"/>
<line x1="92.40" y1="446.81" x2="295.60" y2="446.81" stroke="#2a2a2a" stroke-width="0.8" stroke-dasharray="3.4 1.6" stroke-opacity="0.6"/>
<line x1="242.48" y1="408.20" x2="242.48" y2="549.00" stroke="#2a2a2a" stroke-width="0.8" stroke-dasharray="2.8 2.6" stroke-opacity="0.696"/>
<line x1="92.40" y1="445.01" x2="295.60" y2="445.01" stroke="#2a2a2a" stroke-width="0.8" stroke-dasharray="3.4 1.6" stroke-opacity="0.6"/>
<line x1="260.09" y1="408.20" x2="260.09" y2="549.00" stroke="#2a2a2a" stroke-width="0.8" stroke-dasharray="2.8 2.6" stroke-opacity="0.84"/>
<line x1="92.40" y1="432.80" x2="295.60" y2="432.80" stroke="#2a2a2a" stroke-width="0.8" stroke-dasharray="3.4 1.6" stroke-opacity="0.78"/>
<line x1="269.04" y1="408.20" x2="269.04" y2="549.00" stroke="#2a2a2a" stroke-width="0.8" stroke-dasharray="2.8 2.6" stroke-opacity="0.84"/>
<line x1="92.40" y1="426.61" x2="295.60" y2="426.61" stroke="#2a2a2a" stroke-width="0.8" stroke-dasharray="3.4 1.6" stroke-opacity="0.78"/>
<line x1="275.38" y1="408.20" x2="275.38" y2="549.00" stroke="#2a2a2a" stroke-width="0.8" stroke-dasharray="2.8 2.6" stroke-opacity="0.84"/>
<line x1="92.40" y1="422.21" x2="295.60" y2="422.21" stroke="#2a2a2a" stroke-width="0.8" stroke-dasharray="3.4 1.6" stroke-opacity="0.78"/>
<line x1="280.31" y1="408.20" x2="280.31" y2="549.00" stroke="#2a2a2a" stroke-width="0.8" stroke-dasharray="2.8 2.6" stroke-opacity="0.696"/>
<line x1="92.40" y1="418.80" x2="295.60" y2="418.80" stroke="#2a2a2a" stroke-width="0.8" stroke-dasharray="3.4 1.6" stroke-opacity="0.6"/>
<line x1="284.33" y1="408.20" x2="284.33" y2="549.00" stroke="#2a2a2a" stroke-width="0.8" stroke-dasharray="2.8 2.6" stroke-opacity="0.696"/>
<line x1="92.40" y1="416.01" x2="295.60" y2="416.01" stroke="#2a2a2a" stroke-width="0.8" stroke-dasharray="3.4 1.6" stroke-opacity="0.6"/>
<line x1="287.73" y1="408.20" x2="287.73" y2="549.00" stroke="#2a2a2a" stroke-width="0.8" stroke-dasharray="2.8 2.6" stroke-opacity="0.696"/>
<line x1="92.40" y1="413.65" x2="295.60" y2="413.65" stroke="#2a2a2a" stroke-width="0.8" stroke-dasharray="3.4 1.6" stroke-opacity="0.6"/>
<line x1="290.68" y1="408.20" x2="290.68" y2="549.00" stroke="#2a2a2a" stroke-width="0.8" stroke-dasharray="2.8 2.6" stroke-opacity="0.696"/>
<line x1="92.40" y1="411.61" x2="295.60" y2="411.61" stroke="#2a2a2a" stroke-width="0.8" stroke-dasharray="3.4 1.6" stroke-opacity="0.6"/>
<line x1="293.28" y1="408.20" x2="293.28" y2="549.00" stroke="#2a2a2a" stroke-width="0.8" stroke-dasharray="2.8 2.6" stroke-opacity="0.696"/>
<line x1="92.40" y1="409.81" x2="295.60" y2="409.81" stroke="#2a2a2a" stroke-width="0.8" stroke-dasharray="3.4 1.6" stroke-opacity="0.6"/>
<line x1="143.20" y1="408.20" x2="143.20" y2="549.00" stroke="#333" stroke-width="0.8" stroke-dasharray="2.8 2.2" stroke-opacity="0.8"/>
<line x1="244.80" y1="408.20" x2="244.80" y2="549.00" stroke="#333" stroke-width="0.8" stroke-dasharray="2.8 2.2" stroke-opacity="0.8"/>
<line x1="194.00" y1="408.20" x2="194.00" y2="549.00" stroke="#222" stroke-width="1.2"/>
<line x1="92.40" y1="513.80" x2="295.60" y2="513.80" stroke="#909090" stroke-width="1.4"/>
<line x1="92.40" y1="478.60" x2="295.60" y2="478.60" stroke="#4a4a4a" stroke-width="1.6"/>
<line x1="92.40" y1="443.40" x2="295.60" y2="443.40" stroke="#444" stroke-width="1.8"/>
<line x1="92.40" y1="449.00" x2="188.40" y2="449.00" stroke="#555" stroke-width="1.5"/>
<line x1="92.40" y1="408.20" x2="295.60" y2="408.20" stroke="#222" stroke-width="1.3"/>
<line x1="92.40" y1="549.00" x2="295.60" y2="549.00" stroke="#111" stroke-width="1.4"/>
<line x1="295.60" y1="408.20" x2="295.60" y2="549.00" stroke="#222" stroke-width="1.2"/>
<line x1="92.40" y1="407.70" x2="92.40" y2="549.60" stroke="#000" stroke-width="1.7"/>
<rect x="128.70" y="514.40" width="113.50" height="34.00" fill="#fff"/>
<line x1="270.00" y1="505.20" x2="270.00" y2="549.00" stroke="#000" stroke-width="1.4"/>
<line x1="92.40" y1="514.30" x2="221.00" y2="427.20" stroke="#000" stroke-width="1.7" stroke-dasharray="4.6 2.2"/>
<line x1="92.40" y1="427.20" x2="169.60" y2="427.20" stroke="#111" stroke-width="0.9" stroke-dasharray="4.6 2.2"/>
<line x1="169.60" y1="427.20" x2="270.00" y2="427.20" stroke="#000" stroke-width="1.3" stroke-dasharray="4.6 2.2"/>
<line x1="223.25" y1="427.20" x2="270.00" y2="459.60" stroke="#000" stroke-width="1.7" stroke-dasharray="4.6 2.2"/>
<line x1="191.50" y1="427.20" x2="270.00" y2="481.60" stroke="#000" stroke-width="1.7" stroke-dasharray="4.6 2.2"/>
<line x1="171.30" y1="427.20" x2="270.00" y2="495.60" stroke="#000" stroke-width="1.7" stroke-dasharray="4.6 2.2"/>
<line x1="188.40" y1="449.00" x2="270.00" y2="505.20" stroke="#000" stroke-width="1.7"/>
<line x1="270.00" y1="427.20" x2="270.00" y2="505.00" stroke="#000" stroke-width="1.4" stroke-dasharray="3.4 1.8"/>
<rect x="272.20" y="428.20" width="10.50" height="6.20" fill="#fff"/>
<text x="273.30" y="432.90" font-size="4.3" text-anchor="start" font-weight="bold" fill="#333" >10us</text>
<rect x="272.20" y="457.70" width="13.00" height="6.20" fill="#fff"/>
<text x="273.30" y="462.40" font-size="4.3" text-anchor="start" font-weight="bold" fill="#333" >100us</text>
<rect x="272.20" y="476.80" width="9.50" height="6.20" fill="#fff"/>
<text x="273.30" y="481.50" font-size="4.3" text-anchor="start" font-weight="bold" fill="#333" >1ms</text>
<rect x="272.20" y="491.80" width="11.00" height="6.20" fill="#fff"/>
<text x="273.30" y="496.50" font-size="4.3" text-anchor="start" font-weight="bold" fill="#333" >10ms</text>
<rect x="272.20" y="503.80" width="7.00" height="6.20" fill="#fff"/>
<text x="273.30" y="508.50" font-size="4.3" text-anchor="start" font-weight="bold" fill="#333" >DC</text>
<line x1="166.40" y1="512.40" x2="154.60" y2="478.00" stroke="#000" stroke-width="1.1"/>
<path d="M153.2,473.4 L157.9,479.6 L152.0,481.6 Z" fill="#000"/>
<text x="131.10" y="519.60" font-size="5.2" font-weight="normal" fill="#3a3a3a" textLength="87.60" lengthAdjust="spacingAndGlyphs">OPERATION IN THIS AREA MAY BE</text>
<text x="131.10" y="527.20" font-size="5.2" font-weight="normal" fill="#3a3a3a" textLength="51.80" lengthAdjust="spacingAndGlyphs">LIMITED BY RDS(ON)</text>
<text x="131.10" y="534.80" font-size="5.2" font-weight="normal" fill="#3a3a3a" textLength="40.70" lengthAdjust="spacingAndGlyphs">TJ = MAX RATED</text>
<text x="131.10" y="542.40" font-size="5.2" font-weight="normal" fill="#3a3a3a" textLength="23.50" lengthAdjust="spacingAndGlyphs">TC = 25&#176;C</text>
<text x="87.00" y="551.20" font-size="6" text-anchor="end" font-weight="normal" fill="#555" >1.E-01</text>
<line x1="89.40" y1="549.00" x2="92.40" y2="549.00" stroke="#222" stroke-width="0.9"/>
<text x="87.00" y="516.00" font-size="6" text-anchor="end" font-weight="normal" fill="#555" >1.E+00</text>
<line x1="89.40" y1="513.80" x2="92.40" y2="513.80" stroke="#222" stroke-width="0.9"/>
<text x="87.00" y="480.80" font-size="6" text-anchor="end" font-weight="normal" fill="#555" >1.E+01</text>
<line x1="89.40" y1="478.60" x2="92.40" y2="478.60" stroke="#222" stroke-width="0.9"/>
<text x="87.00" y="445.60" font-size="6" text-anchor="end" font-weight="normal" fill="#555" >1.E+02</text>
<line x1="89.40" y1="443.40" x2="92.40" y2="443.40" stroke="#222" stroke-width="0.9"/>
<text x="87.00" y="410.40" font-size="6" text-anchor="end" font-weight="normal" fill="#555" >1.E+03</text>
<line x1="89.40" y1="408.20" x2="92.40" y2="408.20" stroke="#222" stroke-width="0.9"/>
<text x="92.40" y="559.20" font-size="6.4" text-anchor="middle" font-weight="normal" fill="#444" >1.0E-01</text>
<line x1="92.40" y1="549.00" x2="92.40" y2="551.00" stroke="#222" stroke-width="0.9"/>
<text x="194.80" y="559.20" font-size="6.4" text-anchor="middle" font-weight="normal" fill="#444" >1.0E+01</text>
<line x1="194.00" y1="549.00" x2="194.00" y2="551.00" stroke="#222" stroke-width="0.9"/>
<text x="296.40" y="559.20" font-size="6.4" text-anchor="middle" font-weight="normal" fill="#444" >1.0E+03</text>
<line x1="295.60" y1="549.00" x2="295.60" y2="551.00" stroke="#222" stroke-width="0.9"/>
<text x="136.00" y="577.00" font-size="10" font-weight="bold" fill="#000" textLength="146.70" lengthAdjust="spacingAndGlyphs" stroke="#000" stroke-width="0.18" word-spacing="-0.6">Vds, Drain Source Voltage, Volts</text>
<text x="-534.00" y="60.80" font-size="10.6" font-weight="bold" fill="#000" textLength="108.80" lengthAdjust="spacingAndGlyphs" stroke="#000" stroke-width="0.18" word-spacing="-0.6" transform="rotate(-90 0.00 0.00)">Id, Drain Current, Amps</text>
</g>
<g id="fig14">
<text x="391.70" y="387.30" font-size="12.5" font-weight="bold" fill="#000" textLength="176.30" lengthAdjust="spacingAndGlyphs" stroke="#000" stroke-width="0.3" word-spacing="-1.3">Figure 14. Capacitance vs Vds</text>
<line x1="592.00" y1="392.80" x2="592.00" y2="572.80" stroke="#c4c4c4" stroke-width="0.8"/>
<line x1="343.40" y1="572.80" x2="592.00" y2="572.80" stroke="#ccc" stroke-width="0.8" stroke-dasharray="1.5 1.5"/>
<line x1="388.28" y1="398.80" x2="388.28" y2="551.90" stroke="#a4a4a4" stroke-width="0.8" stroke-dasharray="1.4 1.4"/>
<line x1="405.88" y1="398.80" x2="405.88" y2="551.90" stroke="#a4a4a4" stroke-width="0.8" stroke-dasharray="1.4 1.4"/>
<line x1="423.48" y1="398.80" x2="423.48" y2="551.90" stroke="#a4a4a4" stroke-width="0.8" stroke-dasharray="1.4 1.4"/>
<line x1="441.08" y1="398.80" x2="441.08" y2="551.90" stroke="#a4a4a4" stroke-width="0.8" stroke-dasharray="1.4 1.4"/>
<line x1="458.68" y1="398.80" x2="458.68" y2="551.90" stroke="#a4a4a4" stroke-width="0.8" stroke-dasharray="1.4 1.4"/>
<line x1="479.80" y1="398.80" x2="479.80" y2="551.90" stroke="#a4a4a4" stroke-width="0.8" stroke-dasharray="1.4 1.4"/>
<line x1="500.92" y1="398.80" x2="500.92" y2="551.90" stroke="#a4a4a4" stroke-width="0.8" stroke-dasharray="1.4 1.4"/>
<line x1="522.04" y1="398.80" x2="522.04" y2="551.90" stroke="#a4a4a4" stroke-width="0.8" stroke-dasharray="1.4 1.4"/>
<line x1="543.16" y1="398.80" x2="543.16" y2="551.90" stroke="#a4a4a4" stroke-width="0.8" stroke-dasharray="1.4 1.4"/>
<line x1="564.28" y1="398.80" x2="564.28" y2="551.90" stroke="#a4a4a4" stroke-width="0.8" stroke-dasharray="1.4 1.4"/>
<line x1="374.60" y1="400.29" x2="585.90" y2="400.29" stroke="#c6c6c6" stroke-width="0.8" stroke-dasharray="1.4 1.4"/>
<line x1="374.60" y1="424.84" x2="585.90" y2="424.84" stroke="#c6c6c6" stroke-width="0.8" stroke-dasharray="1.4 1.4"/>
<line x1="374.60" y1="428.46" x2="585.90" y2="428.46" stroke="#c6c6c6" stroke-width="0.8" stroke-dasharray="1.4 1.4"/>
<line x1="374.60" y1="432.57" x2="585.90" y2="432.57" stroke="#c6c6c6" stroke-width="0.8" stroke-dasharray="1.4 1.4"/>
<line x1="374.60" y1="437.31" x2="585.90" y2="437.31" stroke="#c6c6c6" stroke-width="0.8" stroke-dasharray="1.4 1.4"/>
<line x1="374.60" y1="442.91" x2="585.90" y2="442.91" stroke="#c6c6c6" stroke-width="0.8" stroke-dasharray="1.4 1.4"/>
<line x1="374.60" y1="449.77" x2="585.90" y2="449.77" stroke="#c6c6c6" stroke-width="0.8" stroke-dasharray="1.4 1.4"/>
<line x1="374.60" y1="458.62" x2="585.90" y2="458.62" stroke="#c6c6c6" stroke-width="0.8" stroke-dasharray="1.4 1.4"/>
<line x1="374.60" y1="471.09" x2="585.90" y2="471.09" stroke="#c6c6c6" stroke-width="0.8" stroke-dasharray="1.4 1.4"/>
<line x1="374.60" y1="495.64" x2="585.90" y2="495.64" stroke="#c6c6c6" stroke-width="0.8" stroke-dasharray="1.4 1.4"/>
<line x1="374.60" y1="499.26" x2="585.90" y2="499.26" stroke="#c6c6c6" stroke-width="0.8" stroke-dasharray="1.4 1.4"/>
<line x1="374.60" y1="503.37" x2="585.90" y2="503.37" stroke="#c6c6c6" stroke-width="0.8" stroke-dasharray="1.4 1.4"/>
<line x1="374.60" y1="508.11" x2="585.90" y2="508.11" stroke="#c6c6c6" stroke-width="0.8" stroke-dasharray="1.4 1.4"/>
<line x1="374.60" y1="513.71" x2="585.90" y2="513.71" stroke="#c6c6c6" stroke-width="0.8" stroke-dasharray="1.4 1.4"/>
<line x1="374.60" y1="520.57" x2="585.90" y2="520.57" stroke="#c6c6c6" stroke-width="0.8" stroke-dasharray="1.4 1.4"/>
<line x1="374.60" y1="529.42" x2="585.90" y2="529.42" stroke="#c6c6c6" stroke-width="0.8" stroke-dasharray="1.4 1.4"/>
<line x1="374.60" y1="541.89" x2="585.90" y2="541.89" stroke="#c6c6c6" stroke-width="0.8" stroke-dasharray="1.4 1.4"/>
<line x1="374.60" y1="421.60" x2="585.90" y2="421.60" stroke="#b0b0b0" stroke-width="0.8" stroke-dasharray="1.4 1.4"/>
<line x1="374.60" y1="492.40" x2="585.90" y2="492.40" stroke="#b0b0b0" stroke-width="0.8" stroke-dasharray="1.4 1.4"/>
<path d="M374.80,401.20 C375.00,404.00 375.43,412.60 376.00,418.00 C376.57,423.40 377.03,430.43 378.20,433.60 C379.37,436.77 381.20,436.17 383.00,437.00 C384.80,437.83 386.17,438.17 389.00,438.60 C391.83,439.03 393.17,439.32 400.00,439.60 C406.83,439.88 418.33,440.13 430.00,440.30 C441.67,440.47 456.53,440.52 470.00,440.60 C483.47,440.68 504.00,440.77 510.80,440.80" fill="none" stroke="#333" stroke-width="1.2" stroke-linecap="round"/>
<line x1="510.80" y1="440.80" x2="585.90" y2="441.30" stroke="#999" stroke-width="0.9"/>
<path d="M374.80,401.20 C375.07,404.00 375.83,412.60 376.40,418.00 C376.97,423.40 377.10,425.60 378.20,433.60 C379.30,441.60 381.32,456.00 383.00,466.00 C384.68,476.00 387.07,488.37 388.30,493.60 C389.53,498.83 389.68,496.37 390.40,497.40 C391.12,498.43 391.03,498.23 392.60,499.80 C394.17,501.37 397.40,504.83 399.80,506.80 C402.20,508.77 403.80,510.00 407.00,511.60 C410.20,513.20 415.00,515.00 419.00,516.40 C423.00,517.80 427.00,518.92 431.00,520.00 C435.00,521.08 439.00,521.98 443.00,522.90 C447.00,523.82 450.60,524.58 455.00,525.50 C459.40,526.42 464.60,527.52 469.40,528.40 C474.20,529.28 477.87,529.90 483.80,530.80 C489.73,531.70 498.97,533.10 505.00,533.80 C511.03,534.50 506.52,534.80 520.00,535.00 C533.48,535.20 574.92,535.00 585.90,535.00" fill="none" stroke="#333" stroke-width="1.3" stroke-linecap="round"/>
<path d="M374.80,401.20 C375.07,404.00 375.83,412.43 376.40,418.00 C376.97,423.57 376.70,422.60 378.20,434.60 C379.70,446.60 383.67,477.50 385.40,490.00 C387.13,502.50 387.77,505.60 388.60,509.60 C389.43,513.60 389.73,512.77 390.40,514.00 C391.07,515.23 391.03,515.40 392.60,517.00 C394.17,518.60 397.40,521.70 399.80,523.60 C402.20,525.50 403.80,526.60 407.00,528.40 C410.20,530.20 415.00,532.80 419.00,534.40 C423.00,536.00 427.00,536.92 431.00,538.00 C435.00,539.08 439.00,540.02 443.00,540.90 C447.00,541.78 450.60,542.47 455.00,543.30 C459.40,544.13 464.60,545.07 469.40,545.90 C474.20,546.73 476.30,547.30 483.80,548.30 C491.30,549.30 509.30,551.30 514.40,551.90" fill="none" stroke="#111" stroke-width="1.5" stroke-linecap="round"/>
<line x1="374.60" y1="398.80" x2="585.90" y2="398.80" stroke="#555" stroke-width="1.1"/>
<line x1="585.90" y1="398.80" x2="585.90" y2="551.90" stroke="#222" stroke-width="1.4"/>
<line x1="374.60" y1="551.90" x2="585.90" y2="551.90" stroke="#111" stroke-width="1.5"/>
<line x1="374.60" y1="398.30" x2="374.60" y2="552.60" stroke="#111" stroke-width="1.6"/>
<text x="372.20" y="424.20" font-size="4.8" text-anchor="end" font-weight="normal" fill="#555" >10,000</text>
<text x="372.20" y="494.60" font-size="4.8" text-anchor="end" font-weight="normal" fill="#555" >1,000</text>
<g stroke="#777" stroke-width="0.7" fill="none"><path d="M349.6,480.5h4.6M349.6,478.6h4.6M351.9,476.4v5.4M349.6,476.6h4.6"/><path d="M349.6,475h4.6M349.6,473h4.6M351.9,470.8v5M349.8,471h4.2"/></g>
<text x="353.80" y="469.60" font-size="4.4" text-anchor="start" font-weight="normal" fill="#666" transform="rotate(-90 353.80 469.60)" >(pF)</text>
<text x="375.90" y="558.30" font-size="5.2" text-anchor="middle" font-weight="normal" fill="#444" >3.00</text>
<text x="388.70" y="558.30" font-size="5.2" text-anchor="middle" font-weight="normal" fill="#444" >20.00</text>
<text x="405.90" y="558.30" font-size="5.2" text-anchor="middle" font-weight="normal" fill="#444" >45.00</text>
<text x="423.70" y="558.30" font-size="5.2" text-anchor="middle" font-weight="normal" fill="#444" >70.00</text>
<text x="441.20" y="558.30" font-size="5.2" text-anchor="middle" font-weight="normal" fill="#444" >95.00</text>
<text x="458.90" y="558.30" font-size="5.2" text-anchor="middle" font-weight="normal" fill="#444" >120.00</text>
<text x="479.60" y="558.30" font-size="5.2" text-anchor="middle" font-weight="normal" fill="#444" >150.00</text>
<text x="500.60" y="558.30" font-size="5.2" text-anchor="middle" font-weight="normal" fill="#444" >180.00</text>
<text x="521.60" y="558.30" font-size="5.2" text-anchor="middle" font-weight="normal" fill="#444" >210.00</text>
<text x="542.60" y="558.30" font-size="5.2" text-anchor="middle" font-weight="normal" fill="#444" >240.00</text>
<text x="563.50" y="558.30" font-size="5.2" text-anchor="middle" font-weight="normal" fill="#444" >270.00</text>
<text x="585.20" y="558.30" font-size="5.2" text-anchor="middle" font-weight="normal" fill="#444" >300.00</text>
<text x="480.00" y="565.00" font-size="5.1" text-anchor="middle" font-weight="normal" fill="#555" >Vds(V)</text>
<rect x="343.40" y="566.80" width="86.40" height="6.00" fill="none" stroke="#999" stroke-width="0.7"/>
<line x1="343.40" y1="566.80" x2="429.80" y2="566.80" stroke="#555" stroke-width="0.9"/>
<rect x="345.00" y="567.80" width="4.20" height="4.20" fill="none" stroke="#555" stroke-width="0.6"/>
<path d="M345.8,569.8l1.1,1.4l1.8,-2.8" stroke="#444" stroke-width="0.55" fill="none"/>
<text x="352.60" y="571.80" font-size="5.4" font-weight="normal" fill="#444" textLength="17.80" lengthAdjust="spacingAndGlyphs">= Ciss</text>
<rect x="373.20" y="567.80" width="4.20" height="4.20" fill="none" stroke="#555" stroke-width="0.6"/>
<path d="M374.0,569.8l1.1,1.4l1.8,-2.8" stroke="#444" stroke-width="0.55" fill="none"/>
<text x="380.80" y="571.80" font-size="5.4" font-weight="normal" fill="#444" textLength="17.80" lengthAdjust="spacingAndGlyphs">= Coss</text>
<rect x="402.00" y="567.80" width="4.20" height="4.20" fill="none" stroke="#555" stroke-width="0.6"/>
<path d="M402.8,569.8l1.1,1.4l1.8,-2.8" stroke="#444" stroke-width="0.55" fill="none"/>
<text x="409.60" y="571.80" font-size="5.4" font-weight="normal" fill="#444" textLength="17.80" lengthAdjust="spacingAndGlyphs">= Crss</text>
<rect x="429.80" y="567.40" width="1.70" height="5.60" fill="#111"/>
</g>
<g id="fig15">
<text x="88.10" y="611.30" font-size="12.6" font-weight="bold" fill="#000" textLength="194.20" lengthAdjust="spacing" stroke="#000" stroke-width="0.3" word-spacing="-1.3">Figure 15 .Typical Gate Charge</text>
<text x="148.60" y="632.10" font-size="9" font-weight="normal" fill="#707070" textLength="12.40" lengthAdjust="spacingAndGlyphs">Qg</text>
<text x="172.60" y="632.10" font-size="9" font-weight="normal" fill="#707070" textLength="7.00" lengthAdjust="spacingAndGlyphs">Id</text>
<g stroke="#7a7a7a" stroke-width="0.75" fill="none" stroke-linejoin="round">
<path d="M163.06,626.06 L164.95,626.06 L164.09,628.12 L164.95,629.93 L163.75,630.53M163.06,626.06 L163.06,633.80M165.64,627.09 L170.80,627.09M167.88,625.54 L166.67,629.50M167.02,628.64 L170.28,628.64 L170.28,632.08 L167.02,632.08 L167.02,628.64M167.02,630.36 L170.28,630.36M165.30,628.81 L166.16,629.67 L165.98,632.60 L170.80,633.46"/>
<path d="M185.40,625.20 L185.40,626.54M181.70,626.71 L189.10,626.71M184.22,626.71 L183.89,629.57M186.58,626.71 L186.58,629.57M182.54,627.72 L181.70,629.40M188.26,627.72 L189.26,629.40M182.88,630.24 L187.92,630.24 L182.88,633.60M183.72,630.58 L189.10,633.60"/>
<path d="M193.46,625.54 L191.10,629.06M192.45,627.38 L192.45,633.60M197.99,626.54 L194.80,629.57M194.97,625.70 L194.97,632.59 L198.66,632.59 L198.66,631.42"/>
<path d="M200.04,625.64 L206.76,625.64 L206.76,632.68 L200.04,632.68 L200.04,625.64M202.60,626.60 L201.32,628.52M202.28,627.08 L205.00,627.08 L201.80,629.96M202.44,627.88 L205.48,630.12M202.92,630.28 L204.04,630.92M202.28,631.40 L204.52,631.88"/>
</g><g stroke="#555" stroke-width="0.6" fill="none">
<path d="M69.72,637.40 L67.98,639.37M69.14,637.98 L71.69,637.98 L68.56,640.30M69.49,638.56 L72.85,640.30M67.75,641.00 L72.85,641.00M70.30,640.07 L70.30,643.20M69.72,641.58 L67.98,642.97M70.88,641.58 L72.62,642.97"/>
<path d="M75.34,637.63 L73.95,639.95M74.76,638.91 L74.76,643.20M76.73,637.86 L75.92,639.49M76.15,639.02 L79.17,639.02M75.69,640.88 L79.40,640.88M77.66,637.63 L77.66,643.20"/>
</g>
<text x="79.80" y="642.50" font-size="6.4" font-weight="normal" fill="#4a4a4a" textLength="158.80" lengthAdjust="spacingAndGlyphs">(Vd:150.0V Ig:1.00mA Vgon:10.0V Id:09.00A~09.00A)</text>
<line x1="108.30" y1="646.50" x2="108.30" y2="780.30" stroke="#777" stroke-width="0.8" stroke-dasharray="1.4 1.4"/>
<line x1="137.10" y1="646.50" x2="137.10" y2="780.30" stroke="#aaa" stroke-width="0.8" stroke-dasharray="1.4 1.4"/>
<line x1="165.90" y1="646.50" x2="165.90" y2="780.30" stroke="#aaa" stroke-width="0.8" stroke-dasharray="1.4 1.4"/>
<line x1="194.70" y1="646.50" x2="194.70" y2="780.30" stroke="#aaa" stroke-width="0.8" stroke-dasharray="1.4 1.4"/>
<line x1="223.50" y1="646.50" x2="223.50" y2="780.30" stroke="#aaa" stroke-width="0.8" stroke-dasharray="1.4 1.4"/>
<line x1="252.30" y1="646.50" x2="252.30" y2="780.30" stroke="#999" stroke-width="0.8" stroke-dasharray="1.4 1.4"/>
<line x1="281.10" y1="646.50" x2="281.10" y2="780.30" stroke="#aaa" stroke-width="0.8" stroke-dasharray="1.4 1.4"/>
<line x1="80.20" y1="659.88" x2="293.50" y2="659.88" stroke="#999" stroke-width="0.8" stroke-dasharray="1.4 1.4"/>
<line x1="80.20" y1="673.26" x2="293.50" y2="673.26" stroke="#999" stroke-width="0.8" stroke-dasharray="1.4 1.4"/>
<line x1="80.20" y1="686.64" x2="293.50" y2="686.64" stroke="#ccc" stroke-width="0.8" stroke-dasharray="1.4 1.4"/>
<line x1="80.20" y1="700.02" x2="293.50" y2="700.02" stroke="#999" stroke-width="0.8" stroke-dasharray="1.4 1.4"/>
<line x1="80.20" y1="713.40" x2="293.50" y2="713.40" stroke="#555" stroke-width="0.8" stroke-dasharray="1.4 1.4"/>
<line x1="80.20" y1="726.78" x2="293.50" y2="726.78" stroke="#999" stroke-width="0.8" stroke-dasharray="1.4 1.4"/>
<line x1="80.20" y1="740.16" x2="293.50" y2="740.16" stroke="#999" stroke-width="0.8" stroke-dasharray="1.4 1.4"/>
<line x1="80.20" y1="753.54" x2="293.50" y2="753.54" stroke="#999" stroke-width="0.8" stroke-dasharray="1.4 1.4"/>
<line x1="80.20" y1="766.92" x2="293.50" y2="766.92" stroke="#aaa" stroke-width="0.8" stroke-dasharray="1.4 1.4"/>
<rect x="80.20" y="646.50" width="213.30" height="133.80" fill="none" stroke="#1a1a1a" stroke-width="1.45"/>
<rect x="83.8" y="648.2" width="34" height="18" rx="2.6" fill="#fff" stroke="#888" stroke-width="0.8"/>
<path d="M83.8,653.2 v-2.4 q0,-2.6 2.6,-2.6 h2.4" fill="none" stroke="#111" stroke-width="1.2"/>
<path d="M117.8,653.2 v-2.4 q0,-2.6 -2.6,-2.6 h-2.4" fill="none" stroke="#111" stroke-width="1.2"/>
<path d="M83.8,661.2 v2.4 q0,2.6 2.6,2.6 h2.4" fill="none" stroke="#111" stroke-width="1.2"/>
<path d="M117.8,661.2 v2.4 q0,2.6 -2.6,2.6 h-2.4" fill="none" stroke="#111" stroke-width="1.2"/>
<line x1="87.30" y1="652.70" x2="94.50" y2="652.70" stroke="#222" stroke-width="0.9"/>
<text x="96.30" y="654.40" font-size="4.8" font-weight="bold" fill="#333" textLength="16.00" lengthAdjust="spacingAndGlyphs">09.00A</text>
<path d="M80.40,780.00 C80.90,777.17 82.33,768.67 83.40,763.00 C84.47,757.33 85.57,751.63 86.80,746.00 C88.03,740.37 89.43,733.53 90.80,729.20 C92.17,724.87 93.63,722.37 95.00,720.00 C96.37,717.63 97.90,716.12 99.00,715.00 C100.10,713.88 101.17,713.58 101.60,713.30" fill="none" stroke="#222" stroke-width="1.5" stroke-linecap="round"/>
<line x1="101.60" y1="713.30" x2="206.40" y2="713.00" stroke="#222" stroke-width="1.3"/>
<path d="M206.40,713.00 C207.17,712.77 209.40,712.30 211.00,711.60 C212.60,710.90 213.67,710.40 216.00,708.80 C218.33,707.20 219.33,706.55 225.00,702.00 C230.67,697.45 241.67,688.30 250.00,681.50 C258.33,674.70 267.80,666.98 275.00,661.20 C282.20,655.42 290.17,649.20 293.20,646.80" fill="none" stroke="#222" stroke-width="1.3" stroke-linecap="round"/>
<text x="77.60" y="782.10" font-size="4.9" text-anchor="end" font-weight="normal" fill="#3c3c3c" >0</text>
<text x="77.60" y="768.72" font-size="4.9" text-anchor="end" font-weight="normal" fill="#3c3c3c" >1</text>
<text x="77.60" y="755.34" font-size="4.9" text-anchor="end" font-weight="normal" fill="#3c3c3c" >2</text>
<text x="77.60" y="741.96" font-size="4.9" text-anchor="end" font-weight="normal" fill="#3c3c3c" >3</text>
<text x="77.60" y="728.58" font-size="4.9" text-anchor="end" font-weight="normal" fill="#3c3c3c" >4</text>
<text x="77.60" y="715.20" font-size="4.9" text-anchor="end" font-weight="normal" fill="#3c3c3c" >5</text>
<text x="77.60" y="701.82" font-size="4.9" text-anchor="end" font-weight="normal" fill="#3c3c3c" >6</text>
<text x="77.60" y="688.44" font-size="4.9" text-anchor="end" font-weight="normal" fill="#3c3c3c" >7</text>
<text x="77.60" y="675.06" font-size="4.9" text-anchor="end" font-weight="normal" fill="#3c3c3c" >8</text>
<text x="77.60" y="661.68" font-size="4.9" text-anchor="end" font-weight="normal" fill="#3c3c3c" >9</text>
<text x="77.60" y="648.30" font-size="4.9" text-anchor="end" font-weight="normal" fill="#3c3c3c" >10</text>
<text x="108.30" y="789.00" font-size="4.9" text-anchor="middle" font-weight="normal" fill="#3c3c3c" >50</text>
<text x="137.10" y="789.00" font-size="4.9" text-anchor="middle" font-weight="normal" fill="#3c3c3c" >100</text>
<text x="165.90" y="789.00" font-size="4.9" text-anchor="middle" font-weight="normal" fill="#3c3c3c" >150</text>
<text x="194.70" y="789.00" font-size="4.9" text-anchor="middle" font-weight="normal" fill="#3c3c3c" >200</text>
<text x="223.50" y="789.00" font-size="4.9" text-anchor="middle" font-weight="normal" fill="#3c3c3c" >250</text>
<text x="252.30" y="789.00" font-size="4.9" text-anchor="middle" font-weight="normal" fill="#3c3c3c" >300</text>
<text x="281.10" y="789.00" font-size="4.9" text-anchor="middle" font-weight="normal" fill="#3c3c3c" >350</text>
<text x="187.00" y="795.60" font-size="4.6" text-anchor="middle" font-weight="normal" fill="#555" >Qg(nC)</text>
<text x="69.00" y="713.00" font-size="4.6" text-anchor="middle" font-weight="normal" fill="#666" transform="rotate(-90 69.00 713.00)" >Vg(V)</text>
</g>
<g id="fig16">
<text x="390.80" y="603.60" font-size="13" font-weight="bold" fill="#000" textLength="190.60" lengthAdjust="spacingAndGlyphs" stroke="#000" stroke-width="0.3" word-spacing="-1.3">Figure 16.Body Diode Transfer</text>
<text x="438.40" y="618.60" font-size="13" font-weight="bold" fill="#000" textLength="96.10" lengthAdjust="spacingAndGlyphs" stroke="#000" stroke-width="0.3" word-spacing="-1.3">Characteristics</text>
<line x1="385.23" y1="626.50" x2="385.23" y2="770.60" stroke="#c6c6c6" stroke-width="0.8"/>
<line x1="393.66" y1="626.50" x2="393.66" y2="770.60" stroke="#c6c6c6" stroke-width="0.8"/>
<line x1="402.10" y1="626.50" x2="402.10" y2="770.60" stroke="#c6c6c6" stroke-width="0.8"/>
<line x1="410.53" y1="626.50" x2="410.53" y2="770.60" stroke="#c6c6c6" stroke-width="0.8"/>
<line x1="427.39" y1="626.50" x2="427.39" y2="770.60" stroke="#c6c6c6" stroke-width="0.8"/>
<line x1="435.82" y1="626.50" x2="435.82" y2="770.60" stroke="#c6c6c6" stroke-width="0.8"/>
<line x1="444.26" y1="626.50" x2="444.26" y2="770.60" stroke="#c6c6c6" stroke-width="0.8"/>
<line x1="452.69" y1="626.50" x2="452.69" y2="770.60" stroke="#c6c6c6" stroke-width="0.8"/>
<line x1="469.55" y1="626.50" x2="469.55" y2="770.60" stroke="#c6c6c6" stroke-width="0.8"/>
<line x1="477.98" y1="626.50" x2="477.98" y2="770.60" stroke="#c6c6c6" stroke-width="0.8"/>
<line x1="486.42" y1="626.50" x2="486.42" y2="770.60" stroke="#c6c6c6" stroke-width="0.8"/>
<line x1="494.85" y1="626.50" x2="494.85" y2="770.60" stroke="#c6c6c6" stroke-width="0.8"/>
<line x1="511.71" y1="626.50" x2="511.71" y2="770.60" stroke="#c6c6c6" stroke-width="0.8"/>
<line x1="520.14" y1="626.50" x2="520.14" y2="770.60" stroke="#c6c6c6" stroke-width="0.8"/>
<line x1="528.58" y1="626.50" x2="528.58" y2="770.60" stroke="#c6c6c6" stroke-width="0.8"/>
<line x1="537.01" y1="626.50" x2="537.01" y2="770.60" stroke="#c6c6c6" stroke-width="0.8"/>
<line x1="553.87" y1="626.50" x2="553.87" y2="770.60" stroke="#c6c6c6" stroke-width="0.8"/>
<line x1="562.30" y1="626.50" x2="562.30" y2="770.60" stroke="#c6c6c6" stroke-width="0.8"/>
<line x1="570.74" y1="626.50" x2="570.74" y2="770.60" stroke="#c6c6c6" stroke-width="0.8"/>
<line x1="579.17" y1="626.50" x2="579.17" y2="770.60" stroke="#c6c6c6" stroke-width="0.8"/>
<line x1="376.80" y1="631.30" x2="587.60" y2="631.30" stroke="#d4d4d4" stroke-width="0.8"/>
<line x1="376.80" y1="636.11" x2="587.60" y2="636.11" stroke="#d4d4d4" stroke-width="0.8"/>
<line x1="376.80" y1="640.91" x2="587.60" y2="640.91" stroke="#d4d4d4" stroke-width="0.8"/>
<line x1="376.80" y1="645.71" x2="587.60" y2="645.71" stroke="#d4d4d4" stroke-width="0.8"/>
<line x1="376.80" y1="655.32" x2="587.60" y2="655.32" stroke="#d4d4d4" stroke-width="0.8"/>
<line x1="376.80" y1="660.12" x2="587.60" y2="660.12" stroke="#d4d4d4" stroke-width="0.8"/>
<line x1="376.80" y1="664.93" x2="587.60" y2="664.93" stroke="#d4d4d4" stroke-width="0.8"/>
<line x1="376.80" y1="669.73" x2="587.60" y2="669.73" stroke="#d4d4d4" stroke-width="0.8"/>
<line x1="376.80" y1="679.34" x2="587.60" y2="679.34" stroke="#d4d4d4" stroke-width="0.8"/>
<line x1="376.80" y1="684.14" x2="587.60" y2="684.14" stroke="#d4d4d4" stroke-width="0.8"/>
<line x1="376.80" y1="688.94" x2="587.60" y2="688.94" stroke="#d4d4d4" stroke-width="0.8"/>
<line x1="376.80" y1="693.75" x2="587.60" y2="693.75" stroke="#d4d4d4" stroke-width="0.8"/>
<line x1="376.80" y1="703.35" x2="587.60" y2="703.35" stroke="#bcbcbc" stroke-width="0.8"/>
<line x1="376.80" y1="708.16" x2="587.60" y2="708.16" stroke="#bcbcbc" stroke-width="0.8"/>
<line x1="376.80" y1="712.96" x2="587.60" y2="712.96" stroke="#bcbcbc" stroke-width="0.8"/>
<line x1="376.80" y1="717.76" x2="587.60" y2="717.76" stroke="#bcbcbc" stroke-width="0.8"/>
<line x1="376.80" y1="727.37" x2="587.60" y2="727.37" stroke="#bcbcbc" stroke-width="0.8"/>
<line x1="376.80" y1="732.17" x2="587.60" y2="732.17" stroke="#bcbcbc" stroke-width="0.8"/>
<line x1="376.80" y1="736.98" x2="587.60" y2="736.98" stroke="#bcbcbc" stroke-width="0.8"/>
<line x1="376.80" y1="741.78" x2="587.60" y2="741.78" stroke="#bcbcbc" stroke-width="0.8"/>
<line x1="376.80" y1="751.39" x2="587.60" y2="751.39" stroke="#bcbcbc" stroke-width="0.8"/>
<line x1="376.80" y1="756.19" x2="587.60" y2="756.19" stroke="#bcbcbc" stroke-width="0.8"/>
<line x1="376.80" y1="760.99" x2="587.60" y2="760.99" stroke="#bcbcbc" stroke-width="0.8"/>
<line x1="376.80" y1="765.80" x2="587.60" y2="765.80" stroke="#bcbcbc" stroke-width="0.8"/>
<rect x="377.8" y="643" width="124.2" height="15" fill="#fff" fill-opacity="0.55"/>
<rect x="377.8" y="672.5" width="124.2" height="13.5" fill="#fff" fill-opacity="0.55"/>
<line x1="418.96" y1="626.50" x2="418.96" y2="770.60" stroke="#666" stroke-width="1.0"/>
<line x1="461.12" y1="626.50" x2="461.12" y2="770.60" stroke="#999" stroke-width="1.0"/>
<line x1="503.28" y1="626.50" x2="503.28" y2="770.60" stroke="#222" stroke-width="1.2"/>
<line x1="545.44" y1="626.50" x2="545.44" y2="770.60" stroke="#666" stroke-width="1.0"/>
<line x1="376.80" y1="650.52" x2="587.60" y2="650.52" stroke="#c4c4c4" stroke-width="0.9"/>
<line x1="376.80" y1="674.53" x2="587.60" y2="674.53" stroke="#c4c4c4" stroke-width="0.9"/>
<line x1="376.80" y1="698.55" x2="587.60" y2="698.55" stroke="#888" stroke-width="1.0"/>
<line x1="376.80" y1="722.57" x2="587.60" y2="722.57" stroke="#222" stroke-width="1.3"/>
<line x1="376.80" y1="746.58" x2="587.60" y2="746.58" stroke="#222" stroke-width="1.3"/>
<line x1="376.80" y1="626.50" x2="587.60" y2="626.50" stroke="#111" stroke-width="1.3"/>
<line x1="587.60" y1="625.90" x2="587.60" y2="770.60" stroke="#000" stroke-width="1.8"/>
<line x1="375.90" y1="770.60" x2="588.30" y2="770.60" stroke="#000" stroke-width="2.6"/>
<line x1="376.80" y1="625.90" x2="376.80" y2="770.60" stroke="#000" stroke-width="1.9"/>
<path d="M419.50,770.20 C421.08,770.10 425.95,769.88 429.00,769.60 C432.05,769.32 434.92,769.07 437.80,768.50 C440.68,767.93 443.48,767.28 446.30,766.20 C449.12,765.12 451.88,763.77 454.70,762.00 C457.52,760.23 460.37,757.93 463.20,755.60 C466.03,753.27 468.90,750.57 471.70,748.00 C474.50,745.43 477.18,743.08 480.00,740.20 C482.82,737.32 484.62,735.53 488.60,730.70 C492.58,725.87 498.80,717.65 503.90,711.20 C509.00,704.75 512.30,700.10 519.20,692.00 C526.10,683.90 535.77,673.47 545.30,662.60 C554.83,651.73 571.22,632.77 576.40,626.80" fill="none" stroke="#000" stroke-width="1.6" stroke-linecap="round"/>
<path d="M470.00,770.40 C472.40,770.33 480.57,770.27 484.40,770.00 C488.23,769.73 490.60,769.30 493.00,768.80 C495.40,768.30 496.97,767.87 498.80,767.00 C500.63,766.13 502.30,765.03 504.00,763.60 C505.70,762.17 507.33,760.33 509.00,758.40 C510.67,756.47 512.17,754.53 514.00,752.00 C515.83,749.47 517.67,746.77 520.00,743.20 C522.33,739.63 525.33,734.88 528.00,730.60 C530.67,726.32 533.07,722.43 536.00,717.50 C538.93,712.57 540.60,709.58 545.60,701.00 C550.60,692.42 559.03,677.93 566.00,666.00 C572.97,654.07 583.83,635.50 587.40,629.40" fill="none" stroke="#000" stroke-width="1.6" stroke-linecap="round"/>
<rect x="465.00" y="640.20" width="39.60" height="10.40" fill="#fff"/>
<line x1="475.00" y1="639.80" x2="505.40" y2="639.80" stroke="#333" stroke-width="0.9"/>
<line x1="475.40" y1="639.80" x2="475.40" y2="650.80" stroke="#333" stroke-width="0.9"/>
<line x1="505.20" y1="639.80" x2="505.20" y2="645.60" stroke="#333" stroke-width="0.9"/>
<text x="490.40" y="648.60" font-size="7.2" text-anchor="middle" font-weight="normal" fill="#888" >125&#176;C</text>
<line x1="504.80" y1="645.00" x2="544.40" y2="662.40" stroke="#666" stroke-width="0.6"/>
<line x1="504.80" y1="646.60" x2="544.40" y2="664.00" stroke="#666" stroke-width="0.6"/>
<rect x="477.60" y="675.00" width="29.00" height="10.60" fill="#fff"/>
<text x="492.00" y="684.40" font-size="7.4" text-anchor="middle" font-weight="normal" fill="#333" >25&#176;C</text>
<line x1="477.60" y1="686.20" x2="506.60" y2="686.20" stroke="#333" stroke-width="0.9"/>
<line x1="507.00" y1="681.80" x2="545.60" y2="697.40" stroke="#666" stroke-width="0.6"/>
<line x1="507.00" y1="683.40" x2="545.60" y2="699.00" stroke="#666" stroke-width="0.6"/>
<text x="370.80" y="773.00" font-size="6.6" text-anchor="end" font-weight="normal" fill="#999" >0</text>
<text x="370.80" y="748.98" font-size="6.6" text-anchor="end" font-weight="normal" fill="#333" >10</text>
<text x="370.80" y="724.97" font-size="6.6" text-anchor="end" font-weight="normal" fill="#333" >20</text>
<text x="370.80" y="700.95" font-size="6.6" text-anchor="end" font-weight="normal" fill="#333" >30</text>
<text x="370.80" y="676.93" font-size="6.6" text-anchor="end" font-weight="normal" fill="#333" >40</text>
<text x="370.80" y="652.92" font-size="6.6" text-anchor="end" font-weight="normal" fill="#999" >50</text>
<text x="370.80" y="628.90" font-size="6.6" text-anchor="end" font-weight="normal" fill="#888" >60</text>
<text x="377.20" y="781.80" font-size="6.7" text-anchor="middle" font-weight="normal" fill="#555" >0.20</text>
<text x="419.36" y="781.80" font-size="6.7" text-anchor="middle" font-weight="normal" fill="#555" >0.40</text>
<text x="461.52" y="781.80" font-size="6.7" text-anchor="middle" font-weight="normal" fill="#555" >0.60</text>
<text x="503.68" y="781.80" font-size="6.7" text-anchor="middle" font-weight="normal" fill="#555" >0.80</text>
<text x="545.84" y="781.80" font-size="6.7" text-anchor="middle" font-weight="normal" fill="#555" >1.00</text>
<text x="588.00" y="781.80" font-size="6.7" text-anchor="middle" font-weight="normal" fill="#555" >1.20</text>
<text x="411.70" y="793.60" font-size="10" font-weight="bold" fill="#000" textLength="151.00" lengthAdjust="spacingAndGlyphs" stroke="#000" stroke-width="0.18" word-spacing="-0.6">Vsd, Source-Drain Voltage, Volts</text>
<text x="-782.70" y="352.30" font-size="10.4" font-weight="bold" fill="#000" textLength="156.50" lengthAdjust="spacingAndGlyphs" stroke="#000" stroke-width="0.18" word-spacing="-0.6" transform="rotate(-90 0.00 0.00)">Isd, Reverse Drain Current, Amps</text>
</g>
</g>
</svg>
<div class="abs fl"></div>
<div class="abs ft" style="left:316px">6 / 8</div>
<div class="abs ft" style="left:486.2px">Rev 1.0</div>
<div class="abs ft" style="left:531.2px">Jun 2023</div>
</body></html>
